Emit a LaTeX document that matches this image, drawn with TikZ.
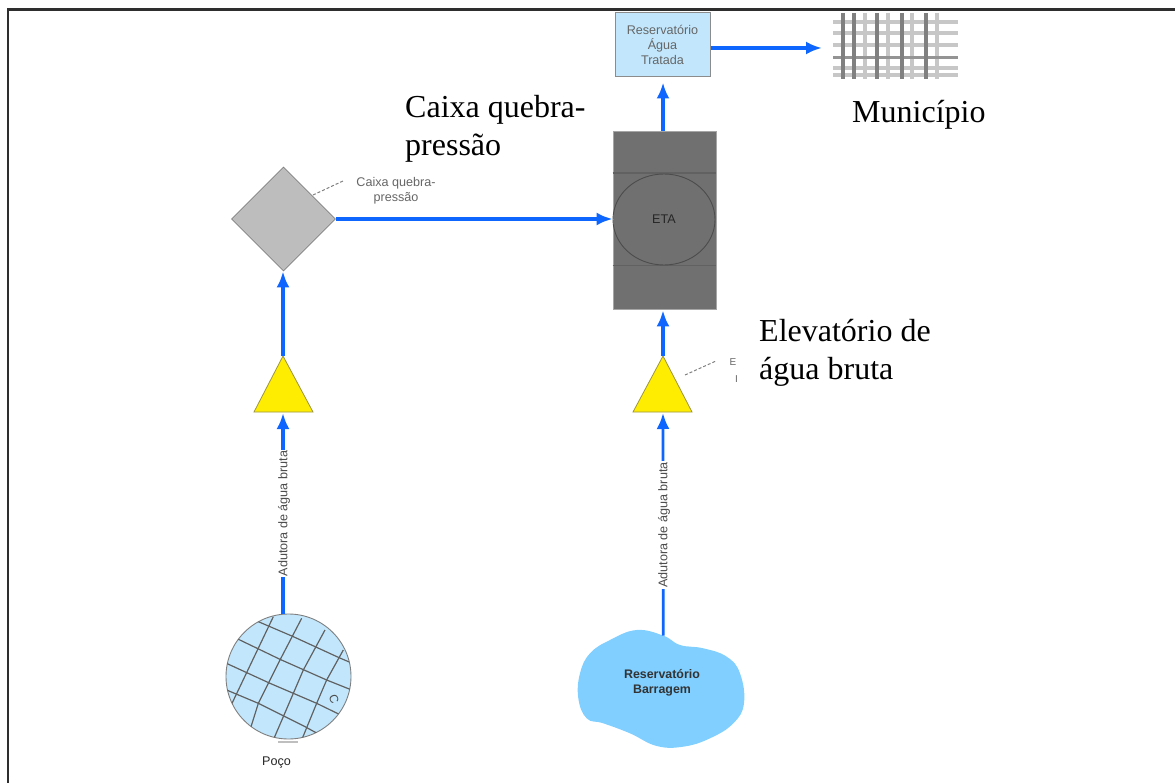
\documentclass[tikz,border=0pt]{standalone}
\usepackage{fontspec}
\setmainfont{Liberation Serif}
\setsansfont{Liberation Sans}
\usetikzlibrary{arrows.meta,shapes.geometric}
\definecolor{flowblue}{HTML}{0F66FF}
\definecolor{pale}{HTML}{C2E7FD}
\definecolor{lake}{HTML}{80CFFF}
\definecolor{tower}{HTML}{707070}
\tikzset{
  flow/.style={draw=flowblue,line width=3.4pt,-{Latex[length=16pt,width=13pt]}},
  flowthin/.style={flow,line width=2.8pt},
  small/.style={font=\sffamily\fontsize{12.6}{15}\selectfont,align=center,inner sep=0pt},
  big/.style={font=\rmfamily\fontsize{32}{38}\selectfont,align=left,inner sep=0pt,anchor=north west,text=black},
  leader/.style={draw=black!50,line width=1pt,densely dashed},
  pump/.style={draw=black!45!yellow,fill=yellow!95!orange,line width=.8pt},
  gridline/.style={draw=black!62,line width=1.2pt},
  citydark/.style={draw=black!50,line width=3.4pt},
  citylight/.style={draw=black!22,line width=3.6pt}
}
\begin{document}
\begin{tikzpicture}[x=1pt,y=-1pt]
\useasboundingbox (0,0) rectangle (1175,783);
\draw[line width=2.6pt,draw=black!82] (8,783) -- (8,9.6) -- (1175,9.6);

% city
\foreach \yy in {22,33,45,68,75} \draw[citylight] (833,\yy) -- (958,\yy);
\foreach \xx in {865,888,912,937} \draw[citylight] (\xx,13) -- (\xx,79);
\draw[citydark,line width=3pt,draw=black!42] (833,58) -- (958,58);
\foreach \xx in {843,854,877,902,926} \draw[citydark] (\xx,13) -- (\xx,79);
\coordinate (city) at (822,48);

% reservoir of treated water
\node[draw=black!45,fill=pale,line width=1pt,minimum width=95pt,minimum height=64pt,inner sep=0pt,
      small,text=black!60] (tank) at (662.5,45) {Reservatório\\Água\\Tratada};

% treatment plant
\node[draw=black!35,fill=tower,line width=.8pt,minimum width=103pt,minimum height=178pt,inner sep=0pt] (eta) at (664.5,220) {};
\draw[draw=black!62,line width=1.8pt] (eta.west |- 0,173) -- (eta.east |- 0,173);
\draw[draw=black!62,line width=.7pt] (eta.west |- 0,265) -- (eta.east |- 0,265);
\node[ellipse,draw=black!70,line width=.9pt,minimum width=102pt,minimum height=91pt,inner sep=0pt,
      font=\sffamily\fontsize{12.6}{15}\selectfont,text=black!85] (etacore) at (664,219.5) {ETA};

% pressure-break box
\node[diamond,aspect=1,draw=black!50,fill=black!26,line width=.8pt,minimum size=104pt,inner sep=0pt] (box) at (283.5,219) {};
\coordinate (boxleaderA) at (313,195);
\coordinate (boxleaderB) at (343,181);
\draw[leader] (boxleaderA) -- (boxleaderB);
\node[small,text=black!60] (boxlabel) at (396,191) {Caixa quebra-\\pressão};

% pumps
\coordinate (pumpAtop) at (283,356);
\coordinate (pumpAleft) at (254,412);
\coordinate (pumpAright) at (313,412);
\coordinate (pumpAbase) at (283,412);
\draw[pump] (pumpAtop) -- (pumpAright) -- (pumpAleft) -- cycle;
\coordinate (pumpBtop) at (663,356);
\coordinate (pumpBleft) at (633,412);
\coordinate (pumpBright) at (692,412);
\coordinate (pumpBbase) at (663,412);
\draw[pump] (pumpBtop) -- (pumpBright) -- (pumpBleft) -- cycle;
\coordinate (pumpleaderA) at (685,375);
\coordinate (pumpleaderB) at (716,361);
\draw[leader] (pumpleaderA) -- (pumpleaderB);
\node[font=\sffamily\fontsize{10}{12}\selectfont,text=black!60,inner sep=0pt] (cutE) at (733,362) {E};
\node[font=\sffamily\fontsize{10}{12}\selectfont,text=black!60,inner sep=0pt] (cutI) at (736.5,379) {I};

% well
\node[circle,draw=black!50,fill=pale,line width=.9pt,minimum size=125pt,inner sep=0pt] (well) at (288.5,676.5) {};
\begin{scope}
  \clip (288.5,676.5) circle[radius=62.5pt];
  \begin{scope}[xshift=200pt,yshift=-570pt,x=.3333pt,y=-.3333pt]
    \draw[gridline] (220,140) -- (108,375) -- (84,425);
    \draw[gridline] (305,145) -- (240,270) -- (175,400) -- (150,480);
    \draw[gridline] (375,180) -- (310,300) -- (250,440) -- (222,505);
    \draw[gridline] (430,240) -- (380,330) -- (350,400) -- (305,510);
    \draw[gridline] (175,155) -- (280,200) -- (415,262) -- (450,277);
    \draw[gridline] (105,203) -- (240,268) -- (380,330) -- (450,358);
    \draw[gridline] (75,278) -- (210,340) -- (350,400) -- (420,434);
    \draw[gridline] (75,358) -- (175,400) -- (315,470) -- (355,492);
  \end{scope}
\end{scope}
\begin{scope}[xshift=200pt,yshift=-570pt,x=.3333pt,y=-.3333pt]
  \draw[draw=black!25,line width=1.8pt] (235,515) -- (295,515);
  \node[font=\sffamily\fontsize{12}{14}\selectfont,text=black!70,rotate=-70,inner sep=0pt] (wellmark) at (402,388) {C};
\end{scope}
\node[font=\sffamily\fontsize{12.6}{15}\selectfont,text=black!85,inner sep=0pt] (welllabel) at (276.5,762) {Poço};

% dam
\begin{scope}[xshift=570pt,yshift=-620pt,x=.3333pt,y=-.3333pt]
  \fill[lake] plot[smooth cycle,tension=.7] coordinates {(280,47) (330,75) (400,85) (470,110) (510,160) (522,250) (490,310) (420,355) (340,380) (260,378) (180,340) (100,310) (50,295) (25,235) (30,160) (60,100) (120,60) (200,30)};
  \coordinate (damtop) at (280,47);
\end{scope}
\node[small,font=\sffamily\bfseries\fontsize{12.4}{15}\selectfont,text=black!80] (damlabel) at (662,683) {Reservatório\\Barragem};

% connectors
\draw[flow,shorten >=1pt] (well.north -| pumpAbase) -- (pumpAbase);
\draw[flow] (pumpAtop) -- (box.south -| pumpAtop);
\draw[flow] (box.east) -- (eta.west |- box.east);
\draw[flowthin,shorten >=1pt] (damtop) -- (pumpBbase);
\draw[flow,shorten >=1pt] (pumpBtop) -- (eta.south -| pumpBtop);
\draw[flow,shorten >=5pt] (eta.north -| pumpBtop) -- (tank.south -| pumpBtop);
\draw[flow] (tank.east |- city) -- (city);

% pipe labels
\node[small,fill=white,inner xsep=1pt,inner ysep=0pt,rotate=90,text=black!70] (pipeA) at (284,513.5) {Adutora de água bruta};
\node[small,fill=white,inner xsep=1pt,inner ysep=0pt,rotate=90,text=black!70] (pipeB) at (664,525) {Adutora de água bruta};

% overlaid labels
\node[big] (bigbox) at (405,95.5) {Caixa quebra-\\pressão};
\node[big] (bigpump) at (759,319) {Elevatório de\\água bruta};
\node[big] (bigcity) at (852,100.5) {Município};
\end{tikzpicture}
\end{document}
